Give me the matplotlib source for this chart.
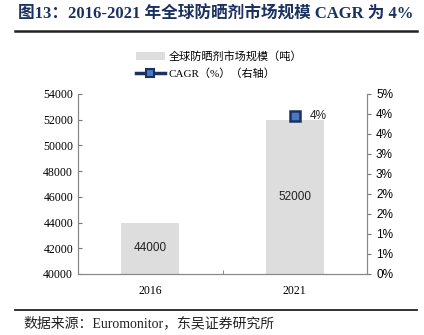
import numpy as np
import matplotlib.pyplot as plt
from matplotlib.lines import Line2D
from matplotlib.patches import Patch

years = ["2016", "2021"]
market_size = [44000, 52000]
cagr = [np.nan, 4.4]
cagr_label = "4%"

title = "图13：2016-2021 年全球防晒剂市场规模 CAGR 为 4%"
source = "数据来源：Euromonitor，东吴证券研究所"
bar_name = "全球防晒剂市场规模（吨）"
line_name = "CAGR（%）（右轴）"

NAVY = "#1B3160"
BAR_GRAY = "#DDDDDD"
SERIF = ["Liberation Serif", "Noto Sans CJK SC"]
SANS = ["Liberation Sans", "Noto Sans CJK SC"]

fig = plt.figure(figsize=(4.24, 3.35), dpi=100)
ax = fig.add_axes([78 / 424, 1 - 274 / 335, 289 / 424, 180 / 335])
ax2 = ax.twinx()

x = np.arange(len(years))
ax.bar(x, market_size, width=0.4, color=BAR_GRAY, zorder=1)
for xi, v in zip(x, market_size):
    ax.text(xi, (40000 + v) / 2, str(v), ha="center", va="center",
            fontsize=8.5, family=SANS, color="#222222")

ax.set_xlim(-0.5, 1.5)
ax.set_ylim(40000, 54000)
ax.set_yticks(np.arange(40000, 54001, 2000))
ax.set_xticks(x)
ax.set_xticklabels(years, family=SERIF, fontsize=8.5)
ax.set_xticks([0.5], minor=True)
ax.tick_params(axis="x", which="major", length=0, pad=8)
ax.tick_params(axis="x", which="minor", length=3, direction="in", color="#777777")
ax.tick_params(axis="y", length=3, direction="in", color="#777777", labelsize=8.5)
for lab in ax.get_yticklabels():
    lab.set_family(SERIF)

ax.spines["top"].set_visible(False)
ax2.spines["top"].set_visible(False)
for s in ["left", "bottom", "right"]:
    ax.spines[s].set_color("#888888")
    ax2.spines[s].set_color("#888888")

ax2.plot(x, cagr, color=NAVY, lw=2.5, marker="s", markersize=7,
         markerfacecolor="#4A78C2", markeredgecolor=NAVY, markeredgewidth=1.8, zorder=3)
ax2.text(x[1] + 0.1, cagr[1], cagr_label, ha="left", va="center",
         fontsize=8.5, family=SANS, color="#222222")
ax2.set_ylim(0, 5)
rt = np.linspace(0, 5, 10)
ax2.set_yticks(rt)
ax2.set_yticklabels([f"{round(t + 1e-9):d}%" for t in rt], family=SANS, fontsize=8.5)
ax2.tick_params(axis="y", length=3, direction="out", color="#777777")

handles = [Patch(facecolor=BAR_GRAY, edgecolor="none"),
           Line2D([0], [0], color=NAVY, lw=2.5, marker="s", markersize=6,
                  markerfacecolor="#4A78C2", markeredgecolor=NAVY, markeredgewidth=1.5)]
fig.legend(handles, [bar_name, line_name], loc="upper left",
           bbox_to_anchor=(126 / 424, 1 - 41 / 335), frameon=False,
           prop={"family": SERIF, "size": 8}, handlelength=2.6,
           handletextpad=0.3, labelspacing=0.55)

fig.text(216 / 424, 1 - 15 / 335, title, ha="center", va="center",
         fontsize=12, weight="bold", family=SERIF, color=NAVY)
fig.add_artist(Line2D([15 / 424, 417 / 424], [1 - 31 / 335] * 2, color="#222222", lw=1.8))
fig.add_artist(Line2D([15 / 424, 417 / 424], [1 - 310 / 335] * 2, color="#222222", lw=1.3))
fig.text(23 / 424, 1 - 323 / 335, source, ha="left", va="center",
         fontsize=10, family=SERIF, color="#222222")

fig.savefig("out.png", dpi=100)
